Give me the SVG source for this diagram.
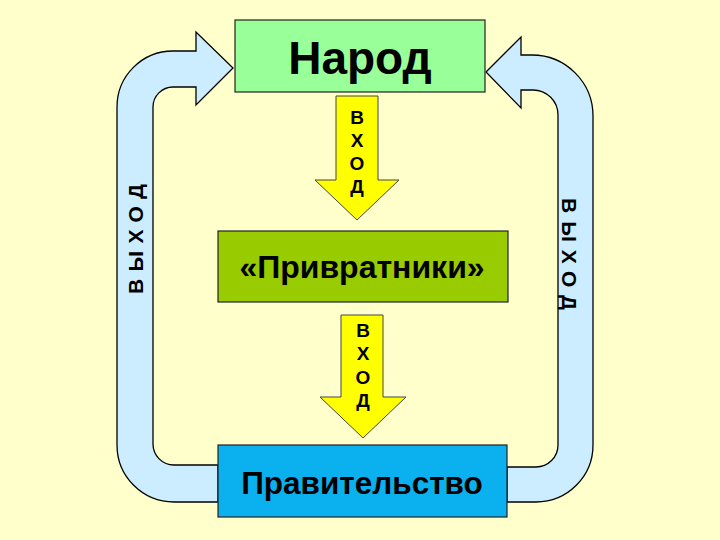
<svg xmlns="http://www.w3.org/2000/svg" width="720" height="540" viewBox="0 0 720 540">
  <style>
    .box { stroke: #222; stroke-width: 1.2; }
    .lbl { font-family: "Liberation Sans", Arial, sans-serif; font-weight: bold; fill: #000; text-anchor: middle; }
    .blue { fill: #CCECFF; stroke: #000; stroke-width: 1.3; stroke-linejoin: miter; }
    .yellow { fill: #FFFF00; stroke: #444; stroke-width: 1; }
    .vx { font-family: "Liberation Sans", Arial, sans-serif; font-weight: bold; font-size: 19px; fill: #000; text-anchor: middle; }
    .vyx { font-family: "Liberation Sans", Arial, sans-serif; font-weight: bold; font-size: 21px; fill: #000; }
  </style>
  <rect x="0" y="0" width="720" height="540" fill="#FFFFCC"/>

  <g id="connectors">
    <g id="exit-left">
      <path class="blue" d="M233,68 L196,105 L196,87 L173,87 A20,20 0 0 0 153,107 L153,444 A21,21 0 0 0 174,465 L218,465 L218,502 L174,502 A57,57 0 0 1 117,445 L117,107 A56,56 0 0 1 173,51 L196,51 L196,32 Z"/>
      <text class="vyx" transform="translate(143,239) rotate(-90)" x="-55" y="0" textLength="110" lengthAdjust="spacing">ВЫХОД</text>
    </g>
    <g id="exit-right">
      <path class="blue" d="M486,72 L521,37 L521,55 L532,55 A61,61 0 0 1 593,116 L593,445 A57,57 0 0 1 536,502 L507,502 L507,467 L536,467 A22,22 0 0 0 558,445 L558,115 A25,25 0 0 0 533,90 L521,90 L521,108 Z"/>
      <text class="vyx" transform="translate(562,254) rotate(90)" x="-56" y="0" textLength="112" lengthAdjust="spacing">ВЫХОД</text>
    </g>
    <g id="input-1">
      <path class="yellow" d="M336,96 L378,96 L378,180 L399,180 L357,220 L315,180 L336,180 Z"/>
      <text class="vx" x="357" y="124">В</text>
      <text class="vx" x="357" y="147">Х</text>
      <text class="vx" x="357" y="170">О</text>
      <text class="vx" x="357" y="193">Д</text>
    </g>
    <g id="input-2">
      <path class="yellow" d="M341,315 L383,315 L383,397 L406,397 L363,438 L320,397 L341,397 Z"/>
      <text class="vx" x="363" y="337">В</text>
      <text class="vx" x="363" y="360">Х</text>
      <text class="vx" x="363" y="384">О</text>
      <text class="vx" x="363" y="407">Д</text>
    </g>
  </g>

  <g id="narod">
    <rect class="box" x="235" y="20" width="250" height="72" fill="#99FF99"/>
    <text class="lbl" x="360" y="74" font-size="46">Народ</text>
  </g>
  <g id="privratniki">
    <rect class="box" x="218" y="231" width="290" height="71" fill="#99CC00"/>
    <text class="lbl" x="362" y="278" font-size="32">«Привратники»</text>
  </g>
  <g id="pravitelstvo">
    <rect class="box" x="218" y="445" width="289" height="72" fill="#0BB0EE"/>
    <text class="lbl" x="362" y="494" font-size="31.5">Правительство</text>
  </g>
</svg>
